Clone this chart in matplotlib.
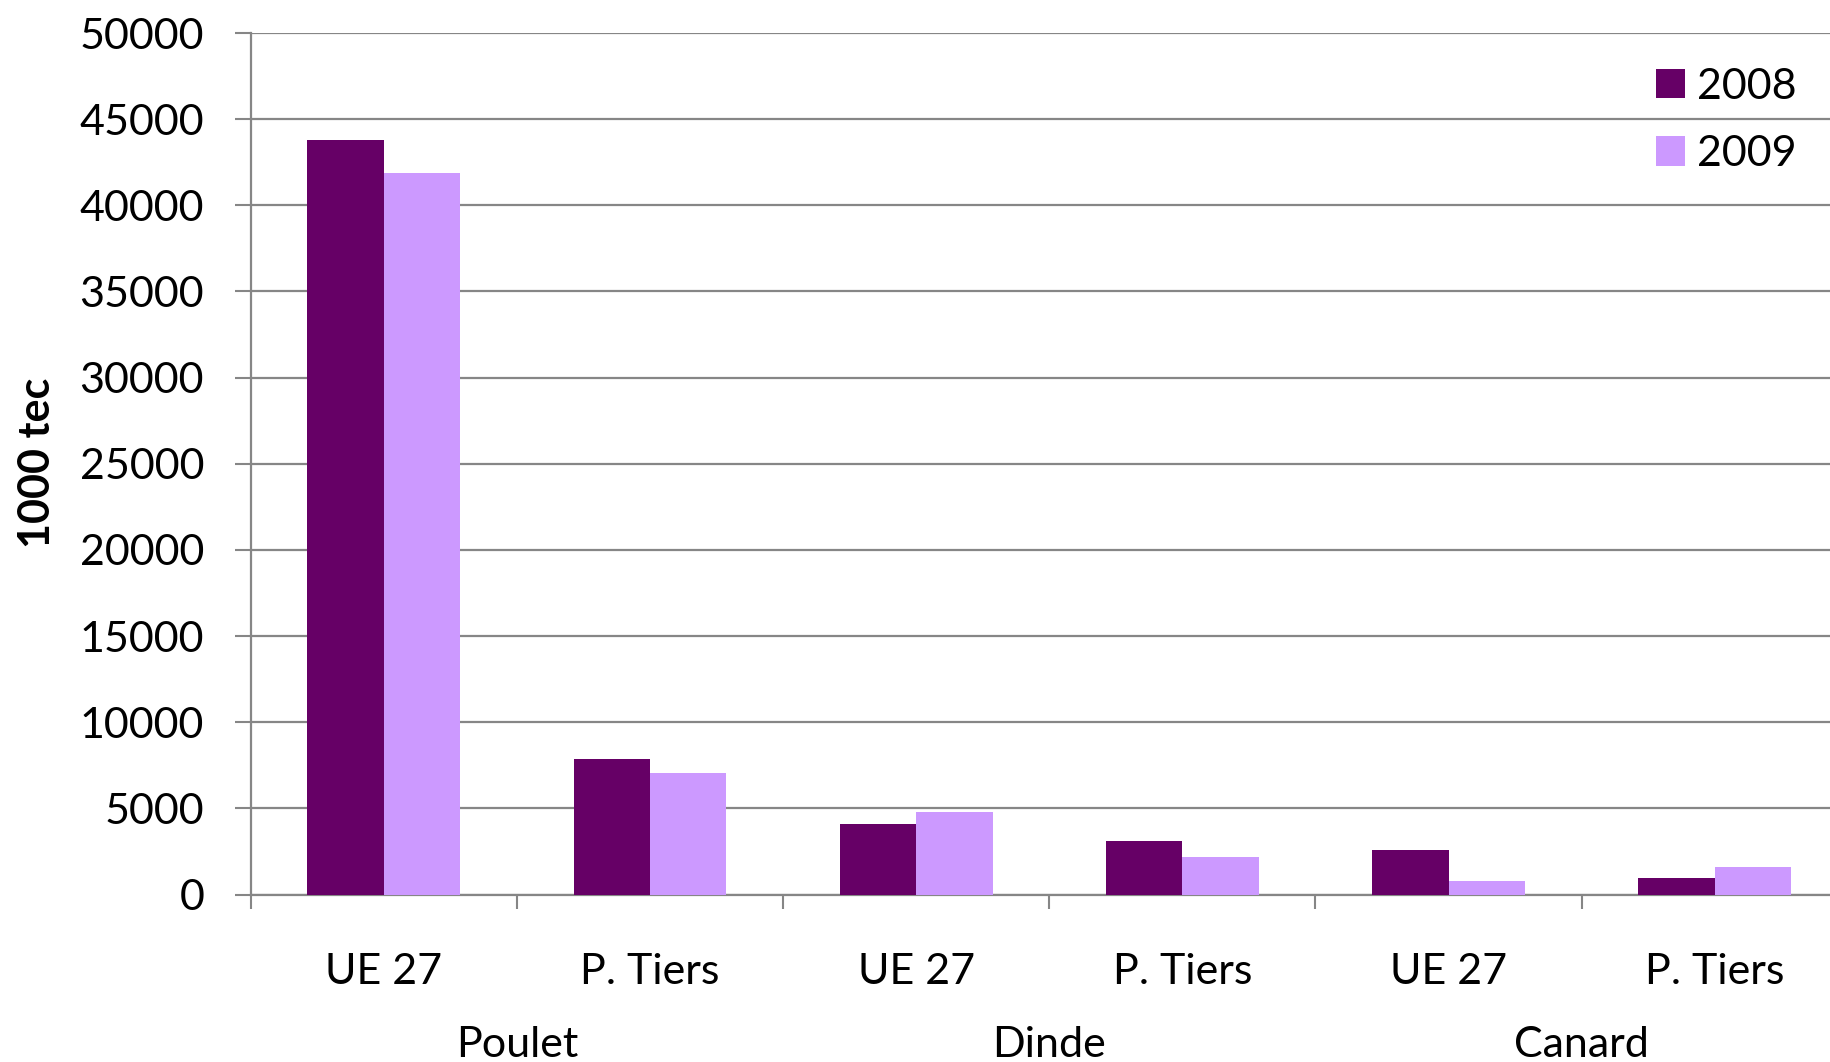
import numpy as np
import matplotlib
matplotlib.use('Agg')
import matplotlib.pyplot as plt
from matplotlib import ticker

plt.rcParams['font.family'] = ['Lato', 'DejaVu Sans']

# donnees (1000 tec)
groupes = ['Poulet', 'Dinde', 'Canard']
categories = ['UE 27', 'P. Tiers', 'UE 27', 'P. Tiers', 'UE 27', 'P. Tiers']
val_2008 = [43800, 7850, 4100, 3100, 2580, 950]
val_2009 = [41900, 7050, 4800, 2170, 800, 1620]
annees = ['2008', '2009']
couleurs = ['#660066', '#CC99FF']
grille = '#868686'

fig = plt.figure(figsize=(18.31, 10.62), dpi=100)
ax = fig.add_axes([0.1369, 0.1577, 0.8723, 0.8112])

x = np.arange(len(categories))
w = 0.287
b1 = ax.bar(x - w/2, val_2008, w, color=couleurs[0], zorder=3, label=annees[0])
b2 = ax.bar(x + w/2, val_2009, w, color=couleurs[1], zorder=3, label=annees[1])

ax.set_xlim(-0.5, len(categories) - 0.5)
ax.set_ylim(0, 50000)
ax.yaxis.set_major_locator(ticker.MultipleLocator(5000))
ax.yaxis.grid(True, color=grille, linewidth=1.6, zorder=0)
ax.set_axisbelow(True)

for s in ['top', 'right']:
    ax.spines[s].set_visible(False)
for s in ['left', 'bottom']:
    ax.spines[s].set_color(grille)
    ax.spines[s].set_linewidth(1.6)

ax.tick_params(axis='y', length=11.5, width=1.5, color=grille, pad=22, labelsize=31)

# ticks de l'axe x aux limites de categories
ax.set_xticks(x)
ax.set_xticklabels([])
ax.tick_params(axis='x', which='major', length=0)
ax.xaxis.set_minor_locator(ticker.FixedLocator(np.arange(-0.5, len(categories), 1.0)))
ax.tick_params(axis='x', which='minor', length=10, width=1.5, color=grille)

tr = ax.get_xaxis_transform()
for i, c in enumerate(categories):
    ax.text(i, -0.09, c, transform=tr, ha='center', va='center', fontsize=31)
for j, g in enumerate(groupes):
    ax.text(2*j + 0.5, -0.175, g, transform=tr, ha='center', va='center', fontsize=31)

fig.text(37/1831, 1 - 463/1062, '1000 tec', rotation=90, ha='center', va='center',
         fontsize=31, fontweight='bold')

fig.legend(handles=[b1, b2], loc='upper right', bbox_to_anchor=(1818/1831, 1 - 46/1062),
           frameon=False, fontsize=31, handlelength=0.68, handleheight=0.68,
           handletextpad=0.28, labelspacing=0.68, borderpad=0)

fig.savefig('out.png', dpi=100)
